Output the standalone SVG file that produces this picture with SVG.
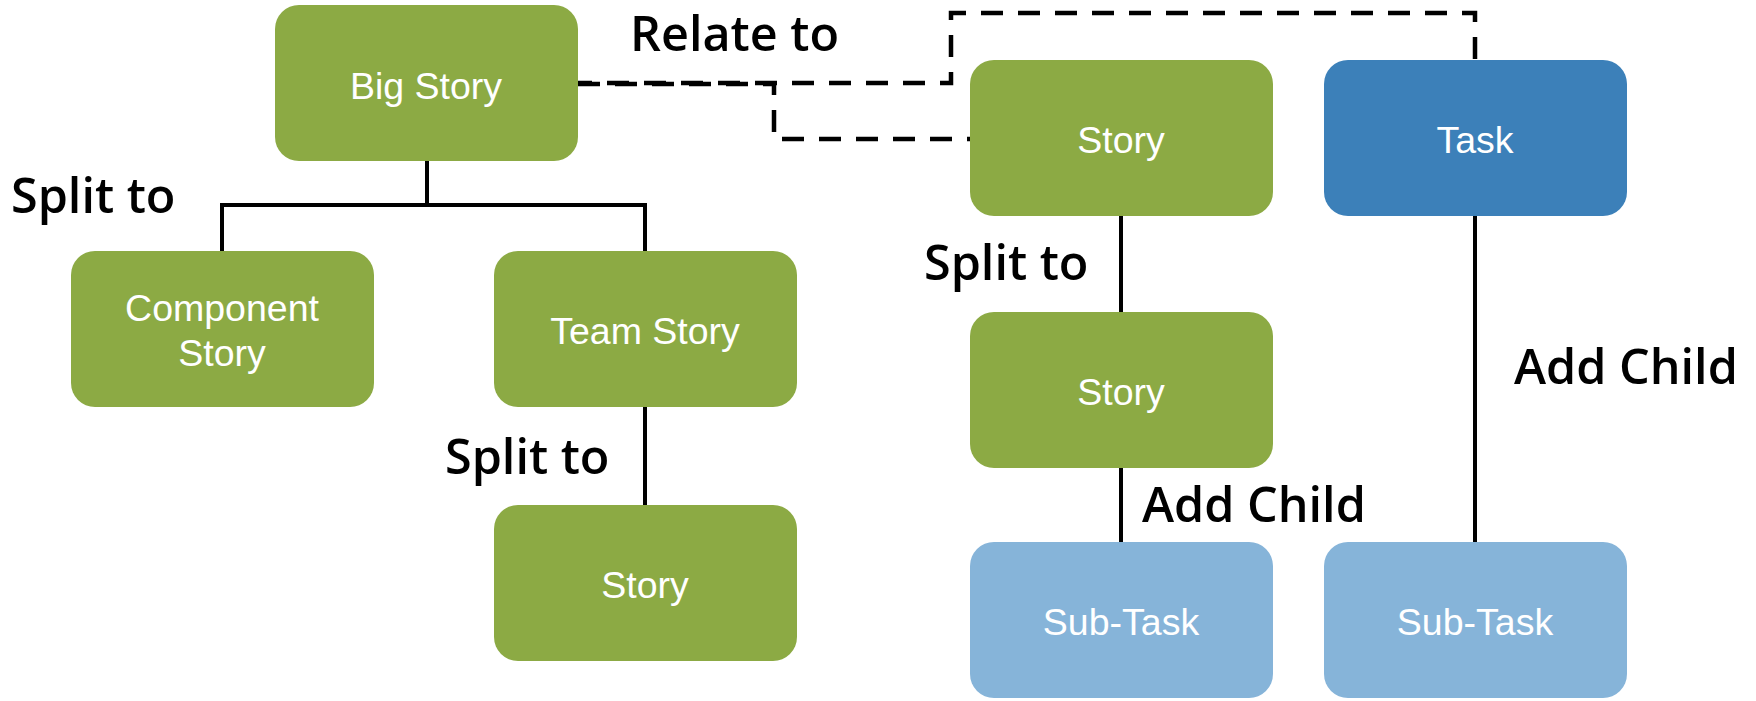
<svg xmlns="http://www.w3.org/2000/svg" width="1756" height="701" viewBox="0 0 1756 701">
<style>
.box{stroke:none}
.green{fill:#8CAA44}
.blue{fill:#3C80B9}
.light{fill:#86B4D9}
.nt{font-family:"Liberation Sans",Arial,sans-serif;font-size:37.5px;fill:#fff;text-anchor:middle}
.lbl{font-family:"Open Sans","Noto Sans",sans-serif;font-weight:600;font-size:48.5px;fill:#000}
.solid{fill:none;stroke:#000;stroke-width:4}
.dash{fill:none;stroke:#000;stroke-width:4.5;stroke-dasharray:22 15}
</style>
<rect width="1756" height="701" fill="#fff"/>
<g id="connectors">
<path class="solid" d="M427 160 V205 M222 251 V205 H645 V251"/>
<path class="solid" d="M645 407 V505"/>
<path class="solid" d="M1121 216 V312"/>
<path class="solid" d="M1121 468 V542"/>
<path class="solid" d="M1475 216 V542"/>
<path class="dash" d="M578 84 H774 V139 H970"/>
<path class="dash" d="M578 83 H951 V13 H1475 V60" stroke-dashoffset="8"/>
</g>
<g id="labels">
<text class="lbl" x="630" y="51">Relate to</text>
<text class="lbl" x="11" y="213">Split to</text>
<text class="lbl" x="445" y="474">Split to</text>
<text class="lbl" x="924" y="280">Split to</text>
<text class="lbl" x="1142" y="522">Add Child</text>
<text class="lbl" x="1514" y="384">Add Child</text>
</g>
<g id="big-story"><rect class="box green" x="275" y="5" width="303" height="156" rx="24"/><text class="nt" x="426" y="99">Big Story</text></g>
<g id="component-story"><rect class="box green" x="71" y="251" width="303" height="156" rx="24"/><text class="nt" x="222" y="321">Component</text><text class="nt" x="222" y="366">Story</text></g>
<g id="team-story"><rect class="box green" x="494" y="251" width="303" height="156" rx="24"/><text class="nt" x="645" y="344">Team Story</text></g>
<g id="story-left"><rect class="box green" x="494" y="505" width="303" height="156" rx="24"/><text class="nt" x="645" y="598">Story</text></g>
<g id="story-top"><rect class="box green" x="970" y="60" width="303" height="156" rx="24"/><text class="nt" x="1121" y="153">Story</text></g>
<g id="task"><rect class="box blue" x="1324" y="60" width="303" height="156" rx="24"/><text class="nt" x="1475" y="153">Task</text></g>
<g id="story-mid"><rect class="box green" x="970" y="312" width="303" height="156" rx="24"/><text class="nt" x="1121" y="405">Story</text></g>
<g id="subtask-1"><rect class="box light" x="970" y="542" width="303" height="156" rx="24"/><text class="nt" x="1121" y="635">Sub-Task</text></g>
<g id="subtask-2"><rect class="box light" x="1324" y="542" width="303" height="156" rx="24"/><text class="nt" x="1475" y="635">Sub-Task</text></g>
</svg>
